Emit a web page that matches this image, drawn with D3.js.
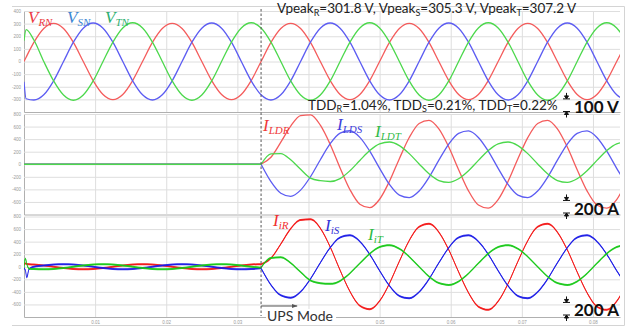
<!DOCTYPE html>
<html>
<head>
<meta charset="utf-8">
<script src="https://cdn.jsdelivr.net/npm/d3@7"></script>
<style>
  html, body { margin: 0; padding: 0; background: #fff; }
  svg { display: block; }
  .grid line { stroke: #dedede; stroke-width: 1; }
  .grid .domain { stroke: #b0b0b0; stroke-width: 1; }
  .grid text { font-family: "Liberation Sans", sans-serif; font-size: 4.5px; fill: #9a9a9a; }
</style>
</head>
<body>
<svg id="chart" width="632" height="329"></svg>
<script>
// Sample instants in ms: one every 30 electrical degrees of the 60 Hz mains.
const gridMs = [
  0, 1.389, 2.778, 4.167, 5.556, 6.944, 8.333, 9.722, 11.111, 12.5, 13.889, 15.278,
  16.667, 18.056, 19.444, 20.833, 22.222, 23.611, 25, 26.389, 27.778, 29.167, 30.556, 31.944,
  33.333, 34.722, 36.111, 37.5, 38.889, 40.278, 41.667, 43.056, 44.444, 45.833, 47.222, 48.611,
  50, 51.389, 52.778, 54.167, 55.556, 56.944, 58.333, 59.722, 61.111, 62.5, 63.889, 65.278,
  66.667, 68.056, 69.444, 70.833, 72.222, 73.611, 75, 76.389, 77.778, 79.167, 80.556, 81.944,
  83.333, 84.722
];
// instant the load is transferred to the inverter (UPS mode)
const switchMs = 33.333;

// Phase-to-neutral voltages (V); two extra samples cover the start-up step.
const voltageStartMs = [0, 0.3];
const vRN = [0, 34,
  151, 261, 302, 261, 151, 0, -151, -261, -302, -261, -151, 0,
  151, 261, 302, 261, 151, 0, -151, -261, -302, -261, -151, 0,
  151, 261, 302, 261, 151, 0, -151, -261, -302, -261, -151, 0,
  151, 261, 302, 261, 151, 0, -151, -261, -302, -261, -151, 0,
  151, 261, 302, 261, 151, 0, -151, -261, -302, -261, -151, 0,
  151];
const vSN = [-160, -295,
  -305, -264, -153, 0, 153, 264, 305, 264, 153, 0, -153, -264,
  -305, -264, -153, 0, 153, 264, 305, 264, 153, 0, -153, -264,
  -305, -264, -153, 0, 153, 264, 305, 264, 153, 0, -153, -264,
  -305, -264, -153, 0, 153, 264, 305, 264, 153, 0, -153, -264,
  -305, -264, -153, 0, 153, 264, 305, 264, 153, 0, -153, -264,
  -305];
const vTN = [165, 252,
  170, 0, -154, -266, -307, -266, -154, 0, 154, 266, 307, 266,
  154, 0, -154, -266, -307, -266, -154, 0, 154, 266, 307, 266,
  154, 0, -154, -266, -307, -266, -154, 0, 154, 266, 307, 266,
  154, 0, -154, -266, -307, -266, -154, 0, 154, 266, 307, 266,
  154, 0, -154, -266, -307, -266, -154, 0, 154, 266, 307, 266,
  154];
const vPeak = ["301.8", "305.3", "307.2"];
const tdd = ["1.04%", "0.21%", "0.22%"];

// Load currents (A)
const iLDR = [0, 0, 0, 0, 0, 0, 0, 0, 0, 0, 0, 0, 0, 0, 0, 0, 0, 0, 0, 0, 0, 0, 0, 0,
  0, 112, 352, 607, 775, 786, 622, 316, -58, -405, -636, -691,
  -557, -271, 89, 426, 649, 700, 563, 275, -86, -424, -649, -700,
  -563, -275, 86, 424, 649, 700, 563, 275, -86, -424, -649, -700,
  -563, -275];
const iLDS = [0, 0, 0, 0, 0, 0, 0, 0, 0, 0, 0, 0, 0, 0, 0, 0, 0, 0, 0, 0, 0, 0, 0, 0,
  0, -277, -461, -510, -412, -199, 72, 327, 495, 533, 428, 209,
  -65, -322, -492, -531, -427, -209, 65, 322, 492, 531, 427, 209,
  -65, -322, -492, -531, -427, -209, 65, 322, 492, 531, 427, 209,
  -65, -322];
const iLDT = [0, 0, 0, 0, 0, 0, 0, 0, 0, 0, 0, 0, 0, 0, 0, 0, 0, 0, 0, 0, 0, 0, 0, 0,
  0, 165, 170, 70, -80, -220, -262, -275, -228, -103, 60, 218,
  325, 354, 297, 169, 5, -152, -259, -288, -231, -103, 61, 218,
  325, 354, 297, 169, 5, -152, -259, -288, -231, -103, 61, 218,
  325, 354];

// Inverter currents (A); four extra samples cover the start-up spike.
const inverterStartMs = [0, 0.2, 0.4, 0.7];
const iiR = [40, 50, 45, 40,
  35, 20, 0, -20, -35, -40, -35, -20, 0, 20, 35, 40,
  35, 20, 0, -20, -35, -40, -35, -20, 0, 20, 35,
  40, 136, 363, 607, 745, 755, 613, 313, -55, -395, -621, -675,
  -544, -265, 87, 417, 635, 685, 551, 270, -84, -415, -635, -685,
  -551, -270, 84, 415, 635, 685, 551, 270, -84, -415, -635, -685,
  -551, -270];
const iiS = [-20, -60, -170, -40,
  0, 20, 35, 40, 35, 20, 0, -20, -35, -40, -35, -20,
  0, 20, 35, 40, 35, 20, 0, -20, -35, -40, -35,
  -25, -289, -455, -494, -398, -194, 64, 305, 466, 501, 403, 197,
  -62, -304, -465, -501, -403, -197, 62, 304, 465, 501, 403, 197,
  -62, -304, -465, -501, -403, -197, 62, 304, 465, 501, 403, 197,
  -62, -304];
const iiT = [-20, 130, 40, -30,
  -35, -40, -35, -20, 0, 20, 35, 40, 35, 20, 0, -20,
  -35, -40, -35, -20, 0, 20, 35, 40, 35, 20, 0,
  -15, 140, 150, 60, -85, -220, -262, -272, -225, -104, 54, 208,
  314, 343, 287, 161, -1, -155, -260, -289, -233, -107, 55, 209,
  314, 343, 287, 161, -1, -155, -260, -289, -233, -107, 55, 209,
  314, 343];
// switching ripple carried by the inverter currents (A, +/-)
const rippleA = 16;

// Axis ticks
const timeTicksMs = [10, 20, 30, 40, 50, 60, 70, 80];
const timeLabelMs = [10, 20, 30, 50, 60, 70, 80];
const voltTicks = [-300, -200, -100, 0, 100, 200, 300, 400];
const currentTicks = [-600, -400, -200, 0, 200, 400, 600, 800];

// ---------------------------------------------------------------------------
const svg = d3.select("#chart");
const plotL = 24, plotR = 620;
const x = d3.scaleLinear().domain([0, 83.8]).range([plotL, plotR]);

const panels = [
  { y: d3.scaleLinear().domain([-400, 400]).range([112, 11]), ticks: voltTicks, labels: false },
  { y: d3.scaleLinear().domain([-800, 800]).range([214.5, 114]), ticks: currentTicks, labels: false },
  { y: d3.scaleLinear().domain([-800, 800]).range([317, 216.5]), ticks: currentTicks, labels: true }
];

// outer frame (top, right, bottom edges)
svg.append("path")
  .attr("d", "M12,6.5H624.5V325.5H12")
  .attr("fill", "none").attr("stroke", "#d4d4d4").attr("stroke-width", 1);

// grids and axes
panels.forEach(p => {
  const [yb, yt] = p.y.range();
  svg.append("g").attr("class", "grid")
    .attr("transform", `translate(0,${yb})`)
    .call(d3.axisBottom(x).tickValues(timeTicksMs)
      .tickSize(-(yb - yt)).tickSizeOuter(0).tickPadding(3.5)
      .tickFormat(d => (p.labels && timeLabelMs.includes(d)) ? (d / 1000).toFixed(2) : ""));
  svg.append("g").attr("class", "grid")
    .attr("transform", `translate(${plotL},0)`)
    .call(d3.axisLeft(p.y).tickValues(p.ticks)
      .tickSize(-(plotR - plotL)).tickSizeOuter(0).tickPadding(3)
      .tickFormat(d => String(d)));
});

svg.append("defs").append("clipPath").attr("id", "plotClip")
  .append("rect").attr("x", plotL).attr("y", 0).attr("width", plotR - plotL).attr("height", 329);

const plots = svg.append("g").attr("clip-path", "url(#plotClip)");

function drawSeries(y, times, values, color, width, ripple, split) {
  const pts = times.map((t, i) => [t, values[i]]);
  const cut = split ? times.indexOf(switchMs) : -1;
  const pieces = cut > 0 ? [pts.slice(0, cut + 1), pts.slice(cut)] : [pts];
  const line = d3.line().x(d => x(d[0])).y(d => y(d[1])).curve(d3.curveMonotoneX);
  const band = d3.area().x(d => x(d[0]))
    .y0(d => y(d[1] - ripple)).y1(d => y(d[1] + ripple)).curve(d3.curveMonotoneX);
  pieces.forEach(p => {
    if (ripple) {
      plots.append("path").attr("d", band(p)).attr("fill", color).attr("opacity", 0.85);
    }
    plots.append("path").attr("d", line(p))
      .attr("fill", "none").attr("stroke", color)
      .attr("stroke-width", width).attr("stroke-linejoin", "round");
  });
}

const vTimes = voltageStartMs.concat(gridMs.slice(1));
const iiTimes = inverterStartMs.concat(gridMs.slice(1));

const c1 = { r: "#f45c5c", s: "#5c5cf2", t: "#4cd84c" };
const c3 = { r: "#f31414", s: "#1a1ae6", t: "#16c816" };

drawSeries(panels[0].y, vTimes, vRN, c1.r, 1.3, 0, false);
drawSeries(panels[0].y, vTimes, vSN, c1.s, 1.3, 0, false);
drawSeries(panels[0].y, vTimes, vTN, c1.t, 1.3, 0, false);

drawSeries(panels[1].y, gridMs, iLDR, c1.r, 1.3, 0, true);
drawSeries(panels[1].y, gridMs, iLDS, c1.s, 1.3, 0, true);
drawSeries(panels[1].y, gridMs, iLDT, c1.t, 1.3, 0, true);

drawSeries(panels[2].y, iiTimes, iiR, c3.r, 0.9, rippleA, true);
drawSeries(panels[2].y, iiTimes, iiS, c3.s, 0.9, rippleA, true);
drawSeries(panels[2].y, iiTimes, iiT, c3.t, 0.9, rippleA, true);

// transfer instant
const xs = x(switchMs);
svg.append("line")
  .attr("x1", xs).attr("x2", xs).attr("y1", 9).attr("y2", 316)
  .attr("stroke", "#555").attr("stroke-width", 1).attr("stroke-dasharray", "2.5,2");

// "UPS Mode" arrow and caption
svg.select("defs").append("marker")
  .attr("id", "arrowHead").attr("viewBox", "0 0 10 10")
  .attr("refX", 9).attr("refY", 5).attr("markerWidth", 6).attr("markerHeight", 6)
  .attr("orient", "auto")
  .append("path").attr("d", "M0,1.5L10,5L0,8.5Z").attr("fill", "#555");
svg.append("line")
  .attr("x1", xs).attr("x2", xs + 36).attr("y1", 306).attr("y2", 306)
  .attr("stroke", "#555").attr("stroke-width", 1).attr("marker-end", "url(#arrowHead)");
svg.append("rect").attr("x", xs + 5).attr("y", 309).attr("width", 70).attr("height", 15).attr("fill", "#fff");
svg.append("text").attr("x", xs + 6).attr("y", 321)
  .attr("font-family", "Lato, sans-serif").attr("font-size", 14).attr("fill", "#333")
  .text("UPS Mode");

// text with subscripts: parts = [[string, isSubscript], ...]
function richText(xp, yp, parts, opt) {
  const t = svg.append("text").attr("x", xp).attr("y", yp)
    .attr("font-family", opt.family).attr("font-size", opt.size)
    .attr("font-style", opt.italic ? "italic" : "normal")
    .attr("fill", opt.color);
  let down = false;
  parts.forEach(([s, sub]) => {
    const ts = t.append("tspan").text(s);
    if (sub && !down) { ts.attr("dy", opt.subShift).attr("font-size", opt.subSize); down = true; }
    else if (sub) { ts.attr("font-size", opt.subSize); }
    else if (!sub && down) { ts.attr("dy", -opt.subShift); down = false; }
  });
  return t;
}

const sym = { family: "'Liberation Serif', serif", size: 17, italic: true, subSize: 11, subShift: 3 };
richText(28, 23, [["V"], ["RN", true]], { ...sym, color: "#ec3a44" });
richText(67, 23, [["V"], ["SN", true]], { ...sym, color: "#3d86d2" });
richText(105, 23, [["V"], ["TN", true]], { ...sym, color: "#2daf70" });

richText(263, 131, [["I"], ["LDR", true]], { ...sym, color: "#f03838" });
richText(337, 129.5, [["I"], ["LDS", true]], { ...sym, color: "#4040dc" });
richText(375, 137, [["I"], ["LDT", true]], { ...sym, color: "#33bb4a" });

richText(273, 226, [["I"], ["iR", true]], { ...sym, color: "#f03030" });
richText(325, 231, [["I"], ["iS", true]], { ...sym, color: "#3434d8" });
richText(368, 240, [["I"], ["iT", true]], { ...sym, color: "#2cbb44" });

const note = { family: "Lato, sans-serif", size: 13.5, italic: false, subSize: 9, subShift: 2.5, color: "#222" };
richText(277, 13, [
  ["Vpeak"], ["R", true], [`=${vPeak[0]} V, Vpeak`], ["S", true],
  [`=${vPeak[1]} V, Vpeak`], ["T", true], [`=${vPeak[2]} V`]
], note);
richText(308, 109.5, [
  ["TDD"], ["R", true], [`=${tdd[0]}, TDD`], ["S", true],
  [`=${tdd[1]}, TDD`], ["T", true], [`=${tdd[2]}`]
], note);

// scale bars: pair of facing markers spanning one scale unit
function scaleMark(xc, yBottom, span, label, yText) {
  const yTop = yBottom - span;
  const g = svg.append("g").attr("stroke", "#111").attr("fill", "#111").attr("stroke-width", 1);
  g.append("line").attr("x1", xc).attr("x2", xc).attr("y1", yTop - 6).attr("y2", yTop);
  g.append("path").attr("d", `M${xc - 2},${yTop - 3}L${xc + 2},${yTop - 3}L${xc},${yTop}Z`);
  g.append("line").attr("x1", xc - 3.5).attr("x2", xc + 3.5).attr("y1", yTop).attr("y2", yTop);
  g.append("line").attr("x1", xc).attr("x2", xc).attr("y1", yBottom).attr("y2", yBottom + 6);
  g.append("path").attr("d", `M${xc - 2},${yBottom + 3}L${xc + 2},${yBottom + 3}L${xc},${yBottom}Z`);
  g.append("line").attr("x1", xc - 3.5).attr("x2", xc + 3.5).attr("y1", yBottom).attr("y2", yBottom);
  svg.append("text").attr("x", 574).attr("y", yText)
    .attr("font-family", "Lato, sans-serif").attr("font-size", 17).attr("font-weight", 700)
    .attr("fill", "#111").text(label);
}
const spanV = panels[0].y(0) - panels[0].y(100);
const spanA2 = panels[1].y(0) - panels[1].y(200);
const spanA3 = panels[2].y(0) - panels[2].y(200);
scaleMark(566.5, 111.5, spanV, "100 V", 113);
scaleMark(566.5, 213, spanA2, "200 A", 215);
scaleMark(566.5, 315, spanA3, "200 A", 315.5);
</script>
</body>
</html>
